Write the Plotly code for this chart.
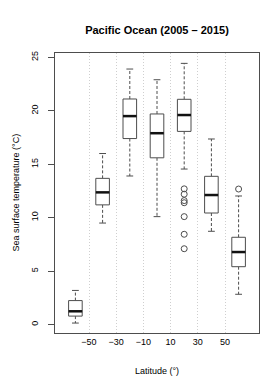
import plotly.graph_objects as go

# Data
latitudes = [-60, -40, -20, 0, 20, 40, 60]
lower_whisker = [0.15, 9.5, 13.9, 10.1, 14.55, 8.73, 2.84]
q1 = [0.8, 11.2, 17.4, 15.6, 18.07, 10.44, 5.42]
median = [1.25, 12.37, 19.5, 17.9, 19.6, 12.12, 6.79]
q3 = [2.25, 13.68, 21.1, 19.7, 21.07, 13.87, 8.17]
upper_whisker = [3.2, 16.0, 23.9, 22.9, 24.43, 17.36, 12.03]
outliers = [[], [], [], [], [12.7, 12.2, 11.6, 11.4, 10.1, 8.45, 7.1], [], [12.68]]
x_ticks = [-50, -30, -10, 10, 30, 50]
y_ticks = [0, 5, 10, 15, 20, 25]

BOX_HALF = 5.0
CAP_HALF = 2.5
LINE_COL = "#4d4d4d"
TEXT_COL = "#000000"
FONT = "Liberation Sans, Arial, Helvetica, sans-serif"

fig = go.Figure()

for i, x in enumerate(latitudes):
    # whiskers (dashed)
    fig.add_trace(go.Scatter(
        x=[x, x, None, x, x], y=[q3[i], upper_whisker[i], None, q1[i], lower_whisker[i]],
        mode="lines", line=dict(color=LINE_COL, width=1, dash="3px,2px"),
        hoverinfo="skip", showlegend=False))
    # caps
    fig.add_trace(go.Scatter(
        x=[x - CAP_HALF, x + CAP_HALF, None, x - CAP_HALF, x + CAP_HALF],
        y=[upper_whisker[i], upper_whisker[i], None, lower_whisker[i], lower_whisker[i]],
        mode="lines", line=dict(color=LINE_COL, width=1),
        hoverinfo="skip", showlegend=False))
    # box
    fig.add_trace(go.Scatter(
        x=[x - BOX_HALF, x + BOX_HALF, x + BOX_HALF, x - BOX_HALF, x - BOX_HALF],
        y=[q1[i], q1[i], q3[i], q3[i], q1[i]],
        mode="lines", line=dict(color=LINE_COL, width=1),
        fill="toself", fillcolor="white",
        hoverinfo="skip", showlegend=False))
    # median
    fig.add_trace(go.Scatter(
        x=[x - BOX_HALF, x + BOX_HALF], y=[median[i], median[i]],
        mode="lines", line=dict(color="#111111", width=2.5),
        hoverinfo="skip", showlegend=False))
    # outliers
    if outliers[i]:
        fig.add_trace(go.Scatter(
            x=[x] * len(outliers[i]), y=outliers[i], mode="markers",
            marker=dict(symbol="circle-open", size=6, color=LINE_COL, line=dict(width=1)),
            hoverinfo="skip", showlegend=False))

fig.update_layout(
    template="none",
    width=274, height=382,
    margin=dict(l=47, r=23, t=45, b=57),
    paper_bgcolor="white", plot_bgcolor="white",
    font=dict(family=FONT, size=9, color=TEXT_COL),
    title=dict(text="<b>Pacific Ocean (2005 – 2015)</b>",
               font=dict(size=11, family=FONT, color=TEXT_COL),
               x=0.5, xref="paper", xanchor="center",
               y=1 - 22 / 382, yref="container", yanchor="middle"),
    showlegend=False,
)

fig.update_xaxes(
    range=[-75, 75], tickvals=x_ticks, ticks="", showgrid=True,
    gridcolor="#cfcfcf", griddash="1px,2px", gridwidth=1,
    showline=True, mirror=True, linecolor=LINE_COL, linewidth=1,
    zeroline=False, ticklabelstandoff=0, tickfont=dict(size=9, color=TEXT_COL))
fig.update_yaxes(
    range=[-0.78, 25.4], tickvals=y_ticks, ticks="outside", ticklen=6,
    tickcolor=LINE_COL, tickwidth=1, showgrid=False, tickangle=-90,
    showline=True, mirror=True, linecolor=LINE_COL, linewidth=1,
    zeroline=False, ticklabelstandoff=6, tickfont=dict(size=9, color=TEXT_COL))

fig.add_annotation(text="Latitude (°)", xref="paper", yref="paper",
                   x=0.5, y=(325 - 363) / 280, showarrow=False,
                   font=dict(size=9, color=TEXT_COL), xanchor="center", yanchor="middle")
fig.add_annotation(text="Sea surface temperature (°C)", xref="paper", yref="paper",
                   x=(7.5 - 47) / 204, y=0.5, textangle=-90, showarrow=False,
                   font=dict(size=9, color=TEXT_COL), xanchor="center", yanchor="middle")

fig.write_html("out.html")
